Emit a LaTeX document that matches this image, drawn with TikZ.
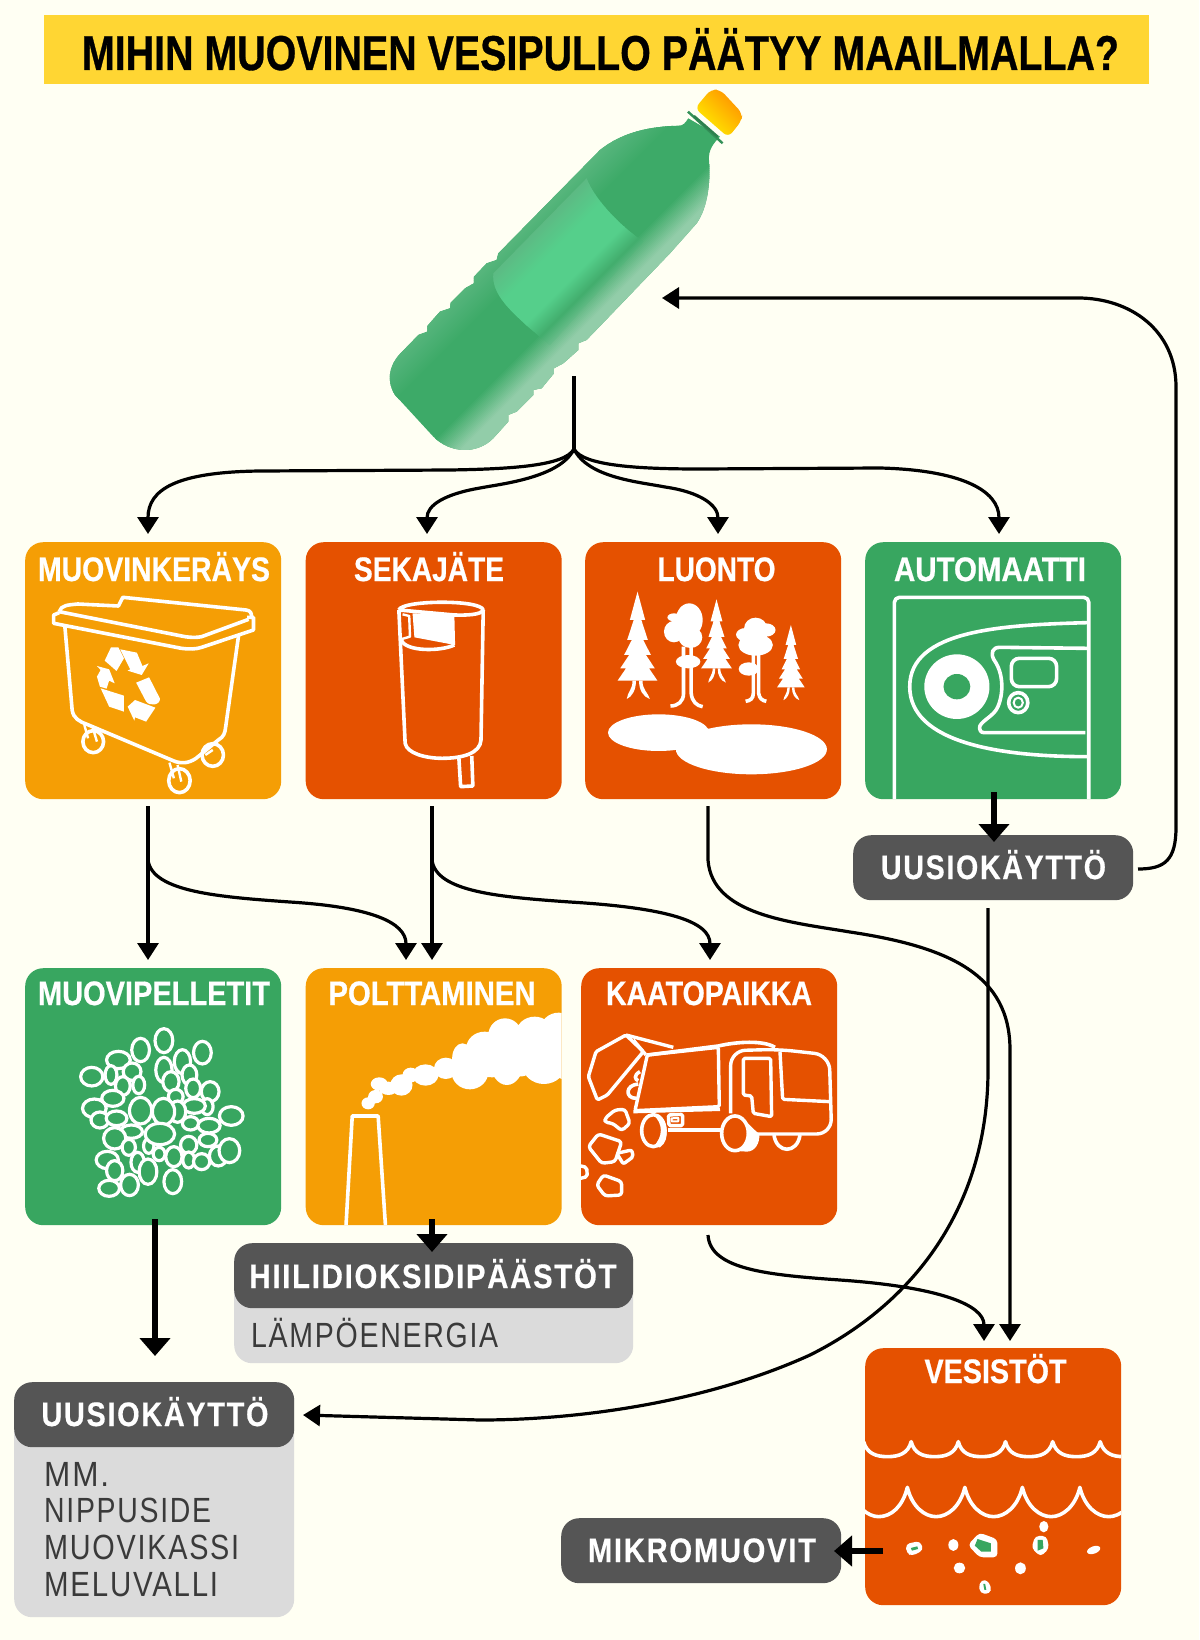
\documentclass[tikz,border=0pt]{standalone}
\usepackage{fontspec}
\usepackage{graphicx}
\usetikzlibrary{arrows.meta}
\setmainfont{Liberation Sans}[BoldFeatures={FakeBold=0.7}]
\newfontfamily\spaced[LetterSpace=6,BoldFeatures={FakeBold=0.5}]{Liberation Sans}
\definecolor{bgc}{HTML}{FFFFF3}
\definecolor{yel}{HTML}{FFD633}
\definecolor{ora}{HTML}{F59E05}
\definecolor{red}{HTML}{E55100}
\definecolor{grn}{HTML}{38A660}
\definecolor{dgr}{HTML}{555555}
\definecolor{lgr}{HTML}{DBDBDB}
\definecolor{txg}{HTML}{3A3A3A}
\definecolor{bbase}{HTML}{3DAA68}
\definecolor{blight}{HTML}{92CDA9}
\definecolor{bupper}{HTML}{58B67E}
\definecolor{lab}{HTML}{55CF8B}
\definecolor{labup}{HTML}{5DB983}
\definecolor{labdn}{HTML}{43AE6E}
\newcommand\lbl[3]{\resizebox{#1pt}{\height}{\fontsize{#2}{#2}\selectfont #3}}
\newcommand\cardclip[2]{\clip[rounded corners=18pt] (#1,#2) rectangle ++(256,257);}
\newcommand\sprucetree[4]{\begin{scope}[shift={(#1,#2)},xscale=#4/52,yscale=(#3-#2)/267]
\fill[white] (0,0)--(20,85)--(10,85)--(27,145)--(15,145)--(35,190)--(22,190)--(45,230)--(30,230)--(52,267)--(-52,267)--(-30,230)--(-45,230)--(-22,190)--(-35,190)--(-15,145)--(-27,145)--(-10,85)--(-20,85)--cycle;
\fill[white] (-13,267) .. controls (-13,295) and (-26,300) .. (-28,322) .. controls (-14,315) and (-4,295) .. (-4,267)--cycle;
\fill[white] (13,267) .. controls (13,295) and (26,300) .. (32,322) .. controls (14,315) and (4,295) .. (4,267)--cycle;
\end{scope}}
\tikzset{
 x=1pt,y=-1pt,
 card/.style={anchor=north west,minimum width=256pt,minimum height=257pt,inner sep=0pt,rounded corners=18pt,draw=none},
 pill/.style={anchor=north west,inner sep=0pt,rounded corners=18pt,fill=dgr,draw=none},
 sub/.style={anchor=north west,inner sep=0pt,rounded corners=18pt,fill=lgr,draw=none},
 head/.style={anchor=base,inner sep=0pt,text=white,font=\bfseries},
 phead/.style={anchor=base,inner sep=0pt,text=white,font=\spaced\bfseries},
 body/.style={anchor=base west,inner sep=0pt,text=txg,font=\spaced},
 thin/.style={line width=3.2pt,draw=black},
 tip/.style={-{Triangle[length=17pt,width=21pt]}},
 thick/.style={line width=6.5pt,draw=black,-{Triangle[length=18pt,width=30pt]}},
 ico/.style={draw=white,line width=3.6pt,line join=round},
 icf/.style={fill=white},
 pel/.style={draw=white,fill=grn,line width=3.2pt},
 truck/.style={draw=white,line width=3.4pt,line join=round,rounded corners=1.5pt},
}
\begin{document}
\begin{tikzpicture}
\useasboundingbox (0,0) rectangle (1199,1640);
\fill[bgc] (0,0) rectangle (1199,1640);
% title
\node[anchor=north west,inner sep=0pt,fill=yel,minimum width=1105pt,minimum height=69pt] (title) at (44,15) {};
\node[anchor=base,inner sep=0pt,font=\bfseries,text=black] (titletxt) at (600.5,70) {\lbl{1037}{49}{MIHIN MUOVINEN VESIPULLO PÄÄTYY MAAILMALLA?}};

% bottle
\begin{scope}[shift={(350,80)},x=0.3333pt,y=-0.3333pt]
\begin{scope}
\clip (1015,115) .. controls (1005,130) and (1000,137) .. (985,137) .. controls (900,140) and (820,155) .. (750,210) -- (445,520) -- (440,540) -- (410,550) -- (372,590) -- (372,610) -- (345,625) -- (302,668) -- (300,685) -- (270,695) -- (232,738) -- (232,755) -- (205,765) -- (150,822) .. controls (115,860) and (110,905) .. (135,945) -- (250,1070) .. controls (300,1120) and (380,1125) .. (430,1075) -- (475,1025) -- (475,1005) -- (500,995) -- (550,945) -- (550,930) -- (575,925) -- (612,880) -- (612,865) -- (640,850) -- (685,810) -- (685,790) -- (710,780) -- (960,520) -- (1040,430) .. controls (1075,380) and (1082,300) .. (1077,240) .. controls (1075,210) and (1090,190) .. (1110,170) -- cycle;
\fill[bbase] (0,0) rectangle (1260,1200);
\foreach \s in {960,966,...,1100}{\pgfmathsetmacro\p{(\s-960)/1.4}
 \fill[bbase!\p!bupper] (\s+400,-400)--(\s-1500,1500)--(\s+8-1500,1500)--(\s+8+400,-400)--cycle;}
\foreach \s in {1330,1336,...,1500}{\pgfmathsetmacro\p{min(100,(\s-1330)/1.1)}
 \fill[blight!\p!bbase] (\s+400,-400)--(\s-1500,1500)--(\s+8-1500,1500)--(\s+8+400,-400)--cycle;}
\begin{scope}
\clip (710,295) .. controls (730,350) and (800,430) .. (880,485) -- (600,795) .. controls (470,690) and (425,640) .. (430,580) -- cycle;
\foreach \s in {940,946,...,1260}{\pgfmathsetmacro\p{\s<1120?max(0,(\s-1000)/1.2):100}
 \fill[lab!\p!labup] (\s+400,-400)--(\s-1500,1500)--(\s+8-1500,1500)--(\s+8+400,-400)--cycle;}
\foreach \s in {1260,1266,...,1340}{\pgfmathsetmacro\p{(\s-1260)/0.8}
 \fill[labdn!\p!lab] (\s+400,-400)--(\s-1500,1500)--(\s+8-1500,1500)--(\s+8+400,-400)--cycle;}
\foreach \s in {1340,1346,...,1400}{\pgfmathsetmacro\p{(\s-1340)/1.1}
 \fill[blight!\p!labdn] (\s+400,-400)--(\s-1500,1500)--(\s+8-1500,1500)--(\s+8+400,-400)--cycle;}
\end{scope}
\end{scope}
\draw[line width=2.4pt,color=bbase!85!black] (1014,95)--(1118,190);
\draw[line width=2.4pt,color=bbase!75!black] (1032,108)--(1103,170);
\shade[left color=orange!85!yellow,right color=yellow!90!orange,shading angle=-45,rounded corners=6pt] (1035,85)--(1083,28)--(1112,30)--(1177,100)--(1175,122)--(1135,172)--cycle;
\end{scope}

% cards
\node[card,fill=ora] (keruu) at (25,542) {};
\node[card,fill=red] (seka) at (305.5,542) {};
\node[card,fill=red] (luonto) at (585,542) {};
\node[card,fill=grn] (auto) at (865,542) {};
\node[card,fill=grn] (pellet) at (25,968) {};
\node[card,fill=ora] (poltto) at (305.5,968) {};
\node[card,fill=red] (kaato) at (581,968) {};
\node[card,fill=red] (vesi) at (865,1348) {};

% grey boxes
\node[sub,minimum width=399pt,minimum height=120pt] (lampo) at (234,1243) {};
\node[sub,minimum width=280pt,minimum height=235pt] (uusisub) at (14,1382) {};
\node[pill,minimum width=280pt,minimum height=65pt] (uusil) at (14,1382) {};
\node[pill,minimum width=399pt,minimum height=65pt] (hiili) at (234,1243) {};
\node[pill,minimum width=280pt,minimum height=65pt] (uusir) at (853,835) {};
\node[pill,minimum width=280pt,minimum height=65pt] (mikro) at (561,1518) {};

% card headings
\node[head] (t1) at (154,581) {\lbl{232}{34}{MUOVINKERÄYS}};
\node[head] (t2) at (429,581) {\lbl{150}{34}{SEKAJÄTE}};
\node[head] (t3) at (716.5,581) {\lbl{118}{34}{LUONTO}};
\node[head] (t4) at (990,581) {\lbl{192}{34}{AUTOMAATTI}};
\node[head] (t5) at (154,1005) {\lbl{232}{34}{MUOVIPELLETIT}};
\node[head] (t6) at (432,1005) {\lbl{207}{34}{POLTTAMINEN}};
\node[head] (t7) at (709,1005) {\lbl{206}{34}{KAATOPAIKKA}};
\node[head] (t8) at (995.5,1383) {\lbl{142}{34}{VESISTÖT}};
\node[phead] (t9) at (993.5,879) {\lbl{225}{34}{UUSIOKÄYTTÖ}};
\node[phead] (t10) at (433,1288) {\lbl{367}{34}{HIILIDIOKSIDIPÄÄSTÖT}};
\node[phead] (t11) at (155,1426) {\lbl{227}{34}{UUSIOKÄYTTÖ}};
\node[phead] (t12) at (702,1562) {\lbl{228}{34}{MIKROMUOVIT}};
\node[body] (t13) at (251,1347) {\lbl{247}{35}{LÄMPÖENERGIA}};
\node[body] (t14) at (44,1486) {\lbl{65}{35}{MM.}};
\node[body] (t15) at (44,1522) {\lbl{167}{35}{NIPPUSIDE}};
\node[body] (t16) at (44,1559) {\lbl{195}{35}{MUOVIKASSI}};
\node[body] (t17) at (44,1596) {\lbl{174}{35}{MELUVALLI}};

% bin icon
\begin{scope}[shift={(0,530)},x=0.37pt,y=-0.3333pt]
\draw[ico] (160,245) .. controls (165,225) and (185,225) .. (210,222) -- (320,228) -- (332,202) -- (665,240) .. controls (678,242) and (680,250) .. (680,262);
\draw[ico] (160,245) -- (500,320) .. controls (520,323) and (530,323) .. (545,320) -- (672,268);
\draw[ico] (160,248) -- (145,255) -- (145,280) -- (490,355) .. controls (510,358) and (530,358) .. (545,352) -- (685,300) -- (685,262) -- (668,262);
\draw[ico] (175,285) -- (195,540) .. controls (198,565) and (215,575) .. (235,583) -- (470,693) .. controls (490,702) and (510,700) .. (530,685) -- (590,630) .. controls (605,620) and (608,610) .. (610,590) -- (645,315);
\draw[ico] (252,635) ellipse [x radius=28,y radius=33];
\draw[ico] (485,752) ellipse [x radius=29,y radius=36];
\draw[ico] (575,675) ellipse [x radius=29,y radius=34];
\draw[ico,line width=2.4pt] (228,585)--(238,625) (250,590)--(262,635);
\draw[ico,line width=2.4pt] (458,698)--(470,745) (480,705)--(490,755);
\draw[ico,line width=2.4pt] (555,675)--(575,660);
\fill[white] (325,358)--(370,368)--(385,408)--(402,400)--(383,435)--(345,422)--(352,418)--cycle;
\fill[white] (300,352)--(320,352)--(335,385)--(315,423)--(283,392)--cycle;
\fill[white] (262,408)--(295,418)--(310,460)--(295,452)--(288,476)--(270,470)--(262,440)--(272,420)--cycle;
\fill[white] (272,475)--(335,497)--(335,545)--(295,530)--cycle;
\fill[white] (368,458)--(403,442)--(432,505) .. controls (435,525) and (405,530) .. (395,515)--cycle;
\fill[white] (365,510)--(420,533)--(395,575)--(365,562)--(363,572)--(345,530)--cycle;
\end{scope}

% cup icon
\begin{scope}[shift={(0,530)},x=0.37pt,y=-0.3333pt]
\draw[ico] (1078,240) -- (1095,640) .. controls (1100,670) and (1150,685) .. (1195,685) .. controls (1250,685) and (1298,670) .. (1300,630) -- (1306,240);
\draw[ico] (1078,240) .. controls (1085,210) and (1300,208) .. (1306,240) .. controls (1300,255) and (1260,256) .. (1228,255) -- (1078,240);
\fill[white] (1115,250)--(1228,255)--(1230,345)--(1120,322)--cycle;
\draw[ico,line width=2.4pt] (1088,253)--(1106,258)--(1108,320)--(1086,327);
\draw[ico] (1085,330) .. controls (1095,365) and (1190,365) .. (1228,345);
\draw[ico] (1240,680)--(1245,770)--(1278,768)--(1275,678);
\end{scope}

% forest icon
\begin{scope}[shift={(580,530)},x=0.3834pt,y=-0.3333pt]
\sprucetree{150}{185}{452}{52}
\sprucetree{356}{208}{415}{40}
\sprucetree{550}{285}{472}{36}
\fill[white] (285,270) ellipse [x radius=35,y radius=50] (245,305) ellipse [x radius=26,y radius=32] (245,262) ellipse [x radius=17,y radius=12] (288,322) ellipse [x radius=31,y radius=32] (282,395) ellipse [x radius=32,y radius=20];
\draw[white,line width=3.6pt] (270,350) -- (270,490) .. controls (270,515) and (255,528) .. (236,528);
\draw[white,line width=3.6pt] (290,350) -- (290,490) .. controls (292,515) and (305,528) .. (320,530);
\fill[white] (458,295) ellipse [x radius=30,y radius=32] (432,314) ellipse [x radius=25,y radius=20] (485,300) ellipse [x radius=25,y radius=20] (458,345) ellipse [x radius=45,y radius=32] (440,417) ellipse [x radius=26,y radius=20];
\draw[white,line width=3.6pt] (452,375) -- (452,490) .. controls (452,505) and (445,512) .. (432,514);
\draw[white,line width=3.6pt] (466,375) -- (466,490) .. controls (468,505) and (475,512) .. (486,514);
\fill[white] (205,608) ellipse [x radius=132,y radius=55] (447,658) ellipse [x radius=197,y radius=75];
\end{scope}

% machine icon
\begin{scope}
\cardclip{865}{542}
\begin{scope}[shift={(580,530)},x=0.3834pt,y=-0.3333pt]
\draw[ico,rounded corners=5pt] (820,830)--(820,202)--(1327,202)--(1327,830);
\draw[ico] (1322,278) .. controls (1100,285) and (860,300) .. (860,470) .. controls (860,640) and (1100,680) .. (1322,680);
\fill[white] (983,470) ellipse [x radius=85,y radius=97];
\fill[grn] (983,470) ellipse [x radius=35,y radius=38];
\draw[ico] (1322,355) -- (1095,352) .. controls (1075,352) and (1070,370) .. (1080,390) .. controls (1105,430) and (1105,490) .. (1090,530) .. controls (1080,560) and (1040,575) .. (1042,595) .. controls (1045,610) and (1050,608) .. (1065,608) -- (1318,608);
\draw[ico,rounded corners=8pt] (1125,385) rectangle (1243,470);
\draw[ico] (1143,518) ellipse [x radius=25,y radius=30];
\draw[ico,line width=2pt] (1143,518) ellipse [x radius=12,y radius=15];
\end{scope}
\end{scope}

% pellets icon
\begin{scope}[shift={(0,960)},x=0.37pt,y=-0.3333pt]
\foreach \cx/\cy/\rx/\ry in {248/350/30/28,320/300/32/26,380/270/24/35,443/242/24/36,547/278/24/34,493/305/22/36,300/345/16/28,357/335/24/26,332/378/20/28,375/375/16/26,443/330/22/38,462/365/22/30,512/345/20/30,522/385/20/28,568/395/24/30,305/415/30/24,255/445/32/28,625/468/32/28,270/480/24/24,315/475/28/22,475/410/20/22,560/440/16/24,525/438/30/22,480/455/22/32,515/490/22/20,565/497/30/22,355/515/30/20,310/535/30/32,562/540/24/20,510/555/22/26,590/588/24/30,620/572/28/36,290/600/30/26,348/562/18/24,402/558/14/22,430/582/16/20,510/600/16/24,470/590/22/30,545/605/22/24,372/607/18/30,310/632/22/30,400/635/24/38,295/685/28/24,350/675/24/32,467/665/24/36,380/452/30/40,442/455/30/40,432/522/40/32}
 {\draw[pel] (\cx,\cy) ellipse [x radius=\rx,y radius=\ry];}
\end{scope}

% chimney icon
\begin{scope}
\cardclip{305.5}{968}
\begin{scope}[shift={(0,960)},x=0.37pt,y=-0.3333pt]
\draw[ico] (935,800)--(952,468)--(1022,468)--(1042,800);
\fill[white] (995,430) ellipse [x radius=18,y radius=18] (1015,410) ellipse [x radius=20,y radius=20] (1025,372) ellipse [x radius=23,y radius=20] (1050,385) ellipse [x radius=25,y radius=20] (1085,375) ellipse [x radius=30,y radius=32] (1110,345) ellipse [x radius=22,y radius=22] (1150,345) ellipse [x radius=35,y radius=32] (1205,325) ellipse [x radius=32,y radius=32] (1250,295) ellipse [x radius=28,y radius=45] (1270,335) ellipse [x radius=50,y radius=53] (1310,265) ellipse [x radius=50,y radius=50] (1365,225) ellipse [x radius=45,y radius=50] (1370,305) ellipse [x radius=45,y radius=70] (1445,220) ellipse [x radius=50,y radius=50] (1510,210) ellipse [x radius=50,y radius=52] (1470,310) ellipse [x radius=60,y radius=62] (1400,280) ellipse [x radius=70,y radius=70] (1330,300) ellipse [x radius=60,y radius=52] (1530,300) ellipse [x radius=40,y radius=60];
\end{scope}
\end{scope}

% truck icon
\begin{scope}
\cardclip{581}{968}
\begin{scope}[shift={(570,960)},x=0.3333pt,y=-0.3333pt]
\draw[truck] (168,225)--(78,275)--(55,350)--(82,420)--(112,405)--(220,275)--cycle;
\draw[truck] (168,225)--(310,262);
\draw[truck] (190,240)--(228,285);
\draw[truck] (232,285)--(445,262)--(448,440)--(195,452)--cycle;
\draw[ico,rounded corners=0pt] (232,285)--(445,258) .. controls (500,245) and (580,240) .. (615,262);
\draw[truck] (190,455)--(450,448);
\draw[ico] (210,335) .. controls (190,345) and (195,360) .. (205,362);
\draw[ico] (205,372) .. controls (165,375) and (165,415) .. (198,415);
\draw[truck,rounded corners=15pt] (482,460)--(482,272)--(625,268)--(778,285)--(785,522)--(540,522);
\draw[truck] (295,510)--(455,510);
\draw[truck] (520,295)--(602,295)--(605,470)--(550,460)--(545,408)--(520,405)--cycle;
\draw[truck] (630,275)--(638,418)--(780,425);
\fill[white] (262,465) .. controls (290,470) and (305,540) .. (270,562) -- (250,560) .. controls (280,530) and (280,490) .. (250,465) -- cycle;
\draw[ico] (250,512) ellipse [x radius=35,y radius=48];
\fill[white] (510,472) .. controls (530,480) and (540,500) .. (568,522) .. controls (570,550) and (555,575) .. (530,575) -- (490,572) .. controls (530,560) and (535,490) .. (510,472) -- cycle;
\filldraw[draw=white,fill=red,line width=3.6pt] (495,520) ellipse [x radius=40,y radius=52];
\draw[ico] (612,525) .. controls (620,582) and (682,582) .. (690,525);
\draw[truck] (295,465)--(338,463)--(338,497)--(297,497)--cycle;
\draw[ico,line width=2pt] (305,475)--(325,474)--(325,484)--(305,484)--cycle;
\draw[truck,rounded corners=3pt] (105,475)--(135,450)--(165,448)--(180,490)--(155,512)--(128,490)--(105,487)--cycle;
\draw[truck,rounded corners=3pt] (55,560)--(85,522)--(155,545)--(135,605)--(95,610)--cycle;
\draw[truck,rounded corners=2pt] (140,580)--(185,570)--(190,590)--(160,612)--cycle;
\draw[truck,rounded corners=2pt] (20,615)--(50,622)--(52,650)--(20,658);
\draw[truck,rounded corners=3pt] (80,675)--(100,645)--(155,665)--(155,705)--(105,708)--cycle;
\end{scope}
\end{scope}

% water icon
\begin{scope}
\cardclip{865}{1348}
\begin{scope}[shift={(550,1340)},x=0.3834pt,y=-0.3333pt]
\draw[ico] (818,305) .. controls (826,340) and (850,350) .. (880,350) .. controls (911,350) and (934,340) .. (942,305)
 \foreach \a in {942,1065,1188,1312,1436}{ .. controls (\a+8,340) and (\a+30,350) .. (\a+61,350) .. controls (\a+92,350) and (\a+115,340) .. (\a+123,305)};
\draw[ico] (782,442) .. controls (795,500) and (830,530) .. (857,530) .. controls (890,530) and (920,500) .. (932,442)
 \foreach \a in {932,1082,1232,1382}{ .. controls (\a+12,500) and (\a+45,530) .. (\a+75,530) .. controls (\a+105,530) and (\a+138,500) .. (\a+150,442)};
\fill[white,rounded corners=4pt] (928,612)--(965,603)--(974,630)--(945,648)--(930,640)--cycle;
\fill[grn] (941,624)--(958,619)--(960,627)--(944,632)--cycle;
\fill[white] (1052,615) ellipse [x radius=13,y radius=18];
\fill[white,rounded corners=4pt] (1120,578)--(1167,598)--(1167,652)--(1120,652)--(1090,615)--cycle;
\fill[grn] (1115,597)--(1150,610)--(1150,635)--(1125,635)--(1108,617)--cycle;
\fill[white] (1288,560) ellipse [x radius=12,y radius=17];
\fill[white,rounded corners=4pt] (1265,588)--(1295,588)--(1302,625)--(1280,650)--(1256,625)--cycle;
\fill[grn] (1272,600)--(1285,600)--(1287,625)--(1272,632)--cycle;
\fill[white,rotate around={20:(1418,630)}] (1418,630) ellipse [x radius=18,y radius=11];
\fill[white] (1068,684) ellipse [x radius=15,y radius=16];
\fill[white] (1227,685) ellipse [x radius=14,y radius=18];
\fill[white,rounded corners=4pt] (1118,730)--(1135,716)--(1152,740)--(1147,762)--(1122,760)--cycle;
\fill[grn] (1130,732)--(1135,732)--(1138,750)--(1133,750)--cycle;
\end{scope}
\end{scope}

% connector ends
\coordinate (stemtop) at (574,376);
\coordinate (fork) at (574,449);
\coordinate (in1) at (148,534);
\coordinate (in2) at (427,534);
\coordinate (in3) at (718,534);
\coordinate (in4) at (999,534);
\coordinate (bottlein) at (662,298);
\coordinate (outr) at (1138,869);
\coordinate (k1) at (148,806);
\coordinate (k2) at (432,806);
\coordinate (k3) at (708,806);
\coordinate (p1) at (148,960);
\coordinate (p2) at (406,960);
\coordinate (p3) at (432,960);
\coordinate (p4) at (710,960);
\coordinate (kout) at (708,1235);
\coordinate (vin1) at (984,1341);
\coordinate (vin2) at (1010,1341);
\coordinate (uout) at (988,908);
\coordinate (uin) at (303,1415);
\coordinate (a1) at (994,792);
\coordinate (a2) at (994,842);
\coordinate (b1) at (155,1219);
\coordinate (b2) at (155,1356);
\coordinate (c1) at (432,1219);
\coordinate (c2) at (432,1252);
\coordinate (d1) at (883,1551);
\coordinate (d2) at (834,1551);

% connectors
\draw[line width=4pt,draw=black] (stemtop) -- (fork);
\draw[thin,tip] (fork) .. controls (565,466) and (510,469) .. (450,470) -- (260,471) .. controls (175,472) and (148,490) .. (in1);
\draw[thin,tip] (fork) .. controls (560,478) and (500,484) .. (480,488) .. controls (445,494) and (427,505) .. (in2);
\draw[thin,tip] (fork) .. controls (588,478) and (640,482) .. (665,487) .. controls (700,492) and (718,505) .. (in3);
\draw[thin,tip] (fork) .. controls (583,466) and (640,469) .. (700,469) -- (880,468) .. controls (960,470) and (999,490) .. (in4);
\draw[thin,tip] (outr) .. controls (1165,869) and (1176,860) .. (1176,827) -- (1176,387) .. controls (1176,330) and (1130,298) .. (1078,298) -- (bottlein);
\draw[thin,tip] (k1) -- (p1);
\draw[thin,tip] (k1) -- (148,860) .. controls (152,892) and (220,897) .. (290,902) .. controls (370,907) and (406,922) .. (p2);
\draw[thin,tip] (k2) -- (p3);
\draw[thin,tip] (k2) -- (432,860) .. controls (436,892) and (500,897) .. (570,902) .. controls (670,908) and (710,922) .. (p4);
\draw[thin,tip] (k3) -- (708,860) .. controls (712,915) and (790,922) .. (850,932) .. controls (950,947) and (1010,975) .. (1010,1050) -- (vin2);
\draw[thin,tip] (uout) -- (988,1070) .. controls (988,1200) and (920,1300) .. (810,1355) .. controls (700,1405) and (570,1420) .. (480,1420) -- (uin);
\draw[thin,tip] (kout) .. controls (710,1270) and (770,1275) .. (840,1280) .. controls (940,1287) and (984,1305) .. (vin1);
\draw[thick] (a1) -- (a2);
\draw[thick] (b1) -- (b2);
\draw[thick] (c1) -- (c2);
\draw[thick] (d1) -- (d2);
\end{tikzpicture}
\end{document}
